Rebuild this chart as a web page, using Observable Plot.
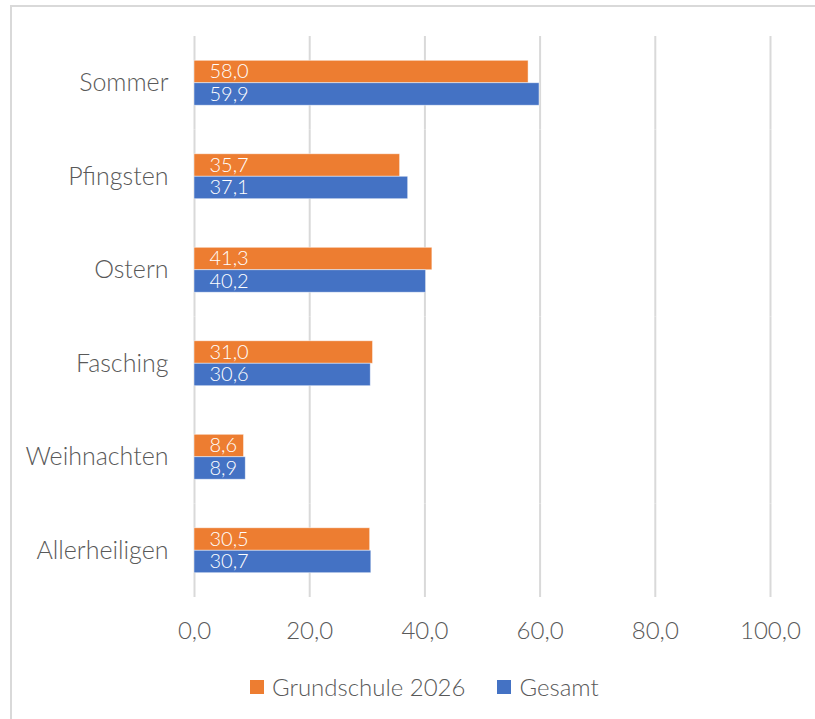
<!DOCTYPE html>
<html>
<head>
<meta charset="utf-8">
<script src="https://cdn.jsdelivr.net/npm/d3@7"></script>
<script src="https://cdn.jsdelivr.net/npm/@observablehq/plot@0.6"></script>
<style>
  body { margin: 0; background: #fff; font-family: Lato, "Open Sans", sans-serif; }
  #frame { position: absolute; left: 10px; top: 5px; width: 840px; height: 740px; border: 2px solid #d9d9d9; box-sizing: border-box; }
  #chart { position: absolute; left: 0; top: 0; }
  #chart svg { font-weight: 300; }
  #legend { position: absolute; left: 250px; top: 672px; display: flex; align-items: center; font-size: 24px; font-weight: 300; color: #595959; }
  .item { display: flex; align-items: center; margin-right: 32px; }
  .sw { width: 14px; height: 14px; margin-right: 8px; }
</style>
</head>
<body>
<div id="frame"></div>
<div id="chart"></div>
<div id="legend"></div>
<script>
const categories = ["Sommer", "Pfingsten", "Ostern", "Fasching", "Weihnachten", "Allerheiligen"];
const series = ["Grundschule 2026", "Gesamt"];
const grundschule = [58.0, 35.7, 41.3, 31.0, 8.6, 30.5];
const gesamt = [59.9, 37.1, 40.2, 30.6, 8.9, 30.7];
const xTicks = [0, 20, 40, 60, 80, 100];
const colors = ["#ED7D31", "#4472C4"];

const data = categories.flatMap((c, i) => [
  {category: c, series: series[0], value: grundschule[i]},
  {category: c, series: series[1], value: gesamt[i]}
]);
const fmt = d => d.toFixed(1).replace(".", ",");

const chart = Plot.plot({
  width: 815,
  height: 660,
  marginTop: 36,
  marginBottom: 63,
  marginLeft: 194,
  marginRight: 45,
  style: {fontFamily: "Lato, 'Open Sans', sans-serif", fontSize: "24px", color: "#595959", background: "transparent"},
  x: {domain: [0, 100], ticks: xTicks, tickFormat: fmt, tickSize: 0, tickPadding: 24, label: null},
  fy: {domain: categories, padding: 0, axis: null, round: false},
  y: {domain: series, axis: null, paddingInner: 0, paddingOuter: 1.08, round: false},
  color: {domain: series, range: colors},
  marks: [
    Plot.ruleX(xTicks, {x: d => d, stroke: "#d9d9d9", strokeWidth: 2}),
    Plot.axisFy({anchor: "left", tickSize: 0, tickPadding: 26, label: null, fontSize: 25}),
    Plot.barX(data, {fy: "category", y: "series", x: "value", fill: "series", stroke: "white", strokeWidth: 0.8, strokeOpacity: 0.6}),
    Plot.text(data, {fy: "category", y: "series", x: 0, text: d => fmt(d.value), textAnchor: "start", dx: 15, fill: "white", fontSize: 20})
  ]
});
document.getElementById("chart").appendChild(chart);

const legend = document.getElementById("legend");
series.forEach((s, i) => {
  const item = document.createElement("div");
  item.className = "item";
  const sw = document.createElement("div");
  sw.className = "sw";
  sw.style.background = colors[i];
  const t = document.createElement("span");
  t.textContent = s;
  item.appendChild(sw);
  item.appendChild(t);
  legend.appendChild(item);
});
</script>
</body>
</html>
